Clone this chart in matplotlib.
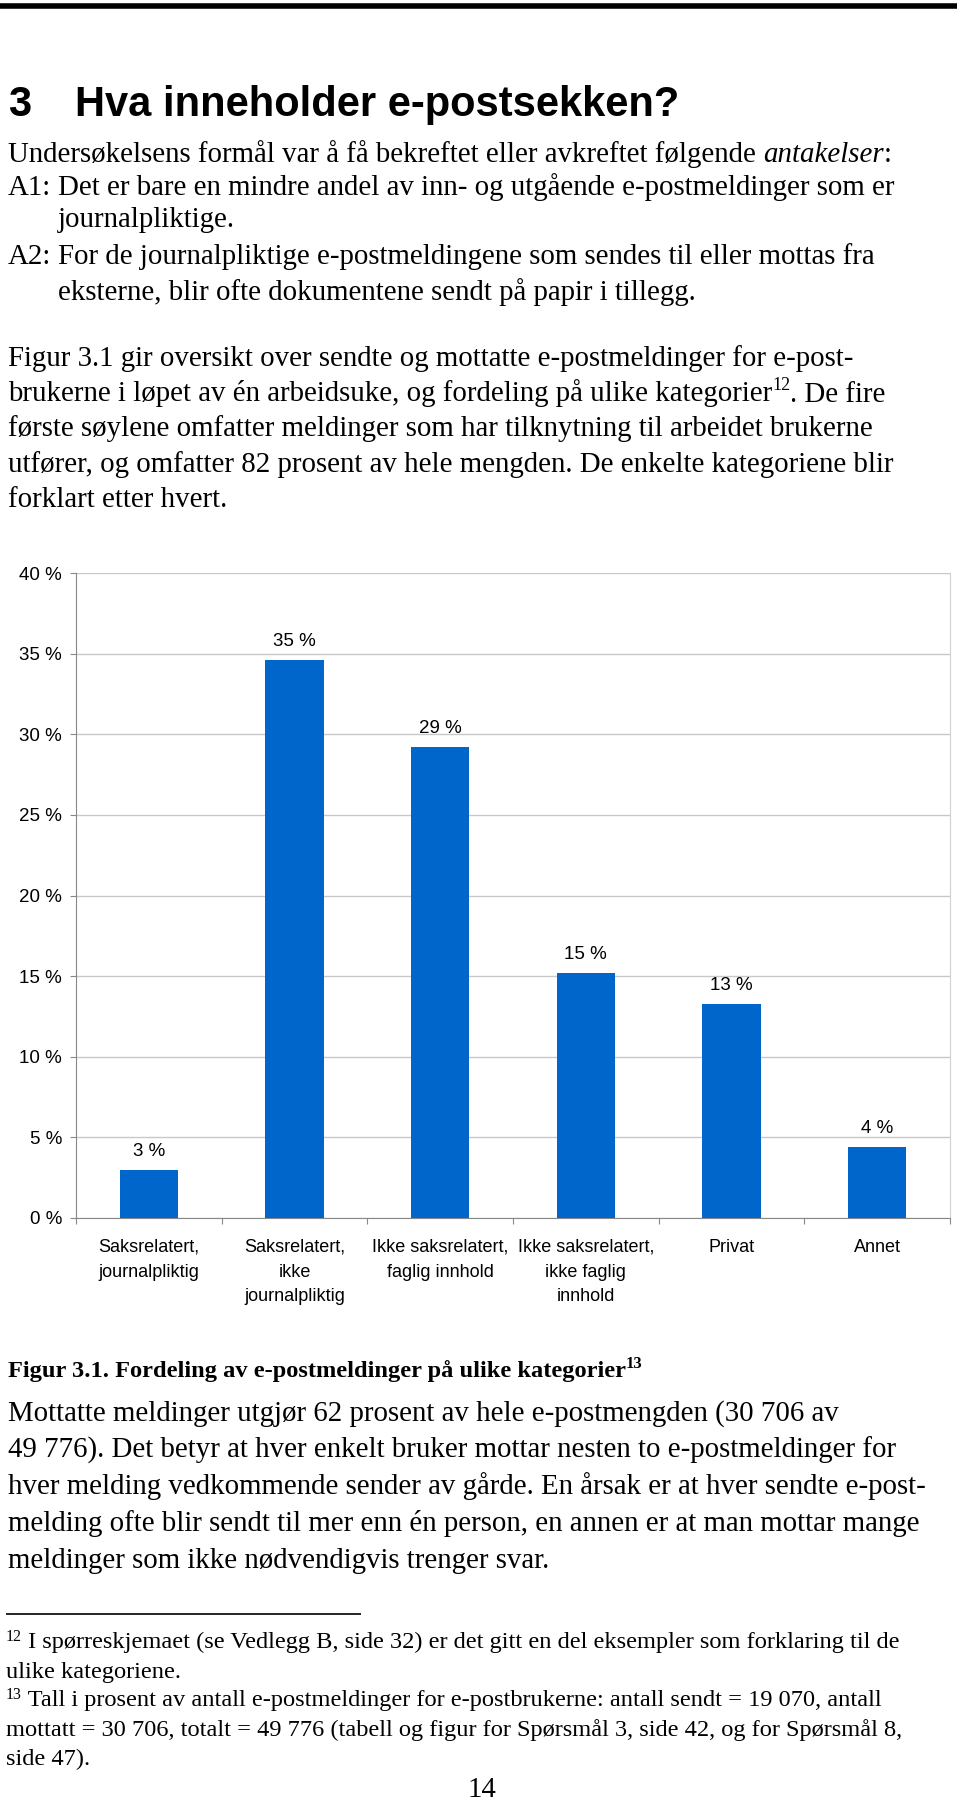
import matplotlib.pyplot as plt
import numpy as np

# -----------------------------
# data
# -----------------------------
categories = ["Saksrelatert,\njournalpliktig",
              "Saksrelatert,\nikke\njournalpliktig",
              "Ikke saksrelatert,\nfaglig innhold",
              "Ikke saksrelatert,\nikke faglig\ninnhold",
              "Privat",
              "Annet"]
shares = [3.0, 34.6, 29.2, 15.2, 13.3, 4.4]
share_labels = ["3 %", "35 %", "29 %", "15 %", "13 %", "4 %"]
y_ticks = [0, 5, 10, 15, 20, 25, 30, 35, 40]
y_tick_labels = ["0 %", "5 %", "10 %", "15 %", "20 %", "25 %", "30 %", "35 %", "40 %"]

heading_num = "3"
heading = "Hva inneholder e-postsekken?"
intro = "Undersøkelsens formål var å få bekreftet eller avkreftet følgende "
intro_it = "antakelser"
a1 = ["Det er bare en mindre andel av inn- og utgående e-postmeldinger som er",
      "journalpliktige."]
a2 = ["For de journalpliktige e-postmeldingene som sendes til eller mottas fra",
      "eksterne, blir ofte dokumentene sendt på papir i tillegg."]
para2 = ["Figur 3.1 gir oversikt over sendte og mottatte e-postmeldinger for e-post-",
         "brukerne i løpet av én arbeidsuke, og fordeling på ulike kategorier",
         "første søylene omfatter meldinger som har tilknytning til arbeidet brukerne",
         "utfører, og omfatter 82 prosent av hele mengden. De enkelte kategoriene blir",
         "forklart etter hvert."]
para2_after_sup = ". De fire"
caption = "Figur 3.1. Fordeling av e-postmeldinger på ulike kategorier"
para3 = ["Mottatte meldinger utgjør 62 prosent av hele e-postmengden (30 706 av",
         "49 776). Det betyr at hver enkelt bruker mottar nesten to e-postmeldinger for",
         "hver melding vedkommende sender av gårde. En årsak er at hver sendte e-post-",
         "melding ofte blir sendt til mer enn én person, en annen er at man mottar mange",
         "meldinger som ikke nødvendigvis trenger svar."]
fn12 = ["I spørreskjemaet (se Vedlegg B, side 32) er det gitt en del eksempler som forklaring til de",
        "ulike kategoriene."]
fn13 = ["Tall i prosent av antall e-postmeldinger for e-postbrukerne: antall sendt = 19 070, antall",
        "mottatt = 30 706, totalt = 49 776 (tabell og figur for Spørsmål 3, side 42, og for Spørsmål 8,",
        "side 47)."]
page_no = "14"

W, H = 960, 1802
SERIF = "Liberation Serif"
SANS = "Liberation Sans"
BODY = 20.8
FOOT = 17.6

fig = plt.figure(figsize=(W / 100, H / 100), dpi=100)
page = fig.add_axes([0, 0, 1, 1])
page.set_xlim(0, W)
page.set_ylim(H, 0)
page.axis("off")


def line(x, y, s, size=BODY, **kw):
    return page.text(x, y, s, fontsize=size, family=SERIF, va="baseline", **kw)


def after(prev, s, size=BODY, rise=0.0, **kw):
    # text glued to the right of the previous piece
    return page.annotate(s, xy=(1, rise), xycoords=prev, va="bottom",
                         fontsize=size, family=SERIF, **kw)


# top rule + heading
page.hlines(6, 0, 957, color="black", lw=4)
page.text(8, 116, heading_num, fontsize=30, family=SANS, weight="bold", va="baseline")
page.text(75, 116, heading, fontsize=30, family=SANS, weight="bold", va="baseline")

# first paragraph
ys = [162, 195, 227, 264, 300]
t = line(8, ys[0], intro)
t = after(t, intro_it, style="italic")
after(t, ":")
line(8, ys[1], "A1:")
line(58, ys[1], a1[0])
line(58, ys[2], a1[1])
line(8, ys[3], "A2:")
line(58, ys[3], a2[0])
line(58, ys[4], a2[1])

# second paragraph
y0, step = 365.5, 35.4
for i, s in enumerate(para2):
    t = line(8, y0 + i * step, s)
    if i == 1:
        t = after(t, "12", size=13, rise=0.45)
        after(t, para2_after_sup, rise=-0.8)

# caption
t = line(8, 1377, caption, size=17.6, weight="bold")
after(t, "13", size=12, rise=0.45, weight="bold")

# third paragraph
y0, step = 1421, 36.7
for i, s in enumerate(para3):
    line(8, y0 + i * step, s)

# footnotes
page.hlines(1614, 6, 361, color="black", lw=1.2)
fy, fstep = 1649, 29
t = line(6, fy - 8, "12", size=11.5)
after(t, " " + fn12[0], size=FOOT, rise=-0.5)
line(6, fy + fstep, fn12[1], size=FOOT)
t = line(6, fy + 2 * fstep - 8, "13", size=11.5)
after(t, " " + fn13[0], size=FOOT, rise=-0.5)
line(6, fy + 3 * fstep, fn13[1], size=FOOT)
line(6, fy + 4 * fstep, fn13[2], size=FOOT)
page.text(482, 1797, page_no, fontsize=BODY, family=SERIF, ha="center", va="baseline")

# -----------------------------
# chart
# -----------------------------
left, right, top, bottom = 76, 950, 573, 1218
ax = fig.add_axes([left / W, 1 - bottom / H, (right - left) / W, (bottom - top) / H])
x = np.arange(len(categories))
bars = ax.bar(x, shares, width=0.4, color="#0066CC", zorder=3)
ax.bar_label(bars, labels=share_labels, padding=7, fontsize=13.5, family=SANS)

ax.set_xlim(-0.5, len(categories) - 0.5)
ax.set_ylim(0, 40)
ax.set_yticks(y_ticks)
ax.set_yticklabels(y_tick_labels, fontsize=13.5, family=SANS)
ax.tick_params(axis="y", length=4, width=0.8, color="#888888", pad=6)
ax.set_xticks(x)
ax.set_xticklabels(categories, fontsize=13, family=SANS, linespacing=1.6, va="top")
ax.tick_params(axis="x", which="major", length=0, pad=15)
ax.set_xticks(np.arange(-0.5, len(categories)), minor=True)
ax.tick_params(axis="x", which="minor", length=4, width=0.8, color="#888888")

ax.grid(axis="y", color="#c8c8c8", lw=1, zorder=0)
ax.spines["top"].set_visible(False)
ax.spines["right"].set_color("#d0d0d0")
ax.spines["left"].set_color("#888888")
ax.spines["bottom"].set_color("#888888")

fig.savefig("out.png", dpi=100)
